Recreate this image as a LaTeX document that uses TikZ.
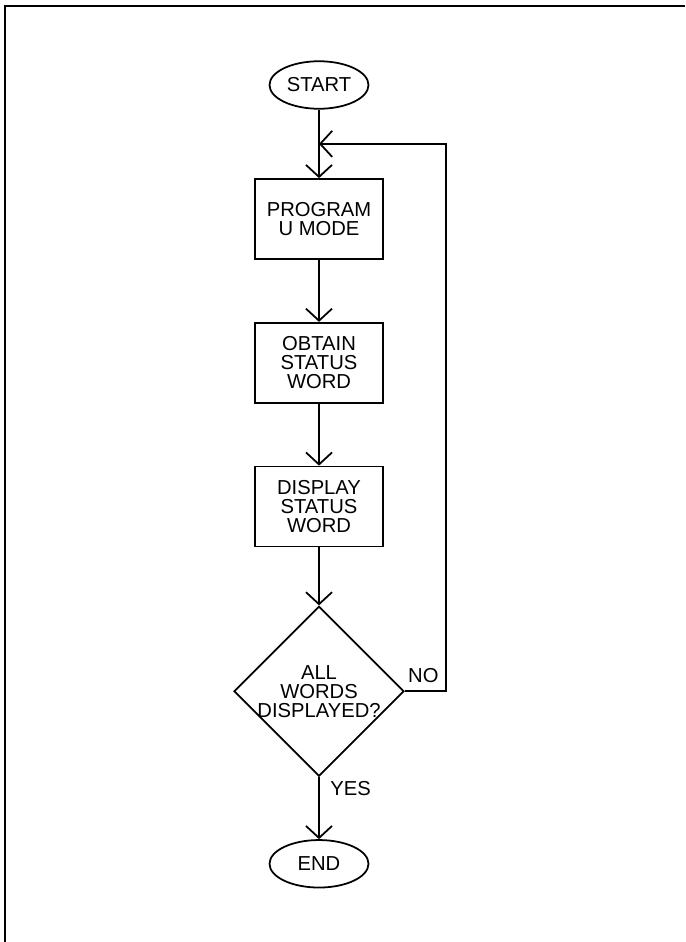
\documentclass[tikz,border=0pt]{standalone}
\usepackage{fontspec}
\setmainfont{Liberation Sans}
\usetikzlibrary{positioning,shapes.geometric,calc,arrows.meta}

\begin{document}
\begin{tikzpicture}[
  font=\fontsize{11.5}{10.8}\selectfont,
  >={Straight Barb[length=2.4mm,width=5.2mm]},
  node distance=1.24cm,
  term/.style={ellipse, draw=black, line width=1pt, minimum width=1.98cm,
    minimum height=0.95cm, inner sep=1pt, align=center},
  proc/.style={rectangle, draw=black, line width=1pt, minimum width=2.55cm,
    minimum height=1.6cm, align=center, inner sep=2pt},
  decide/.style={diamond, draw=black, line width=1pt, aspect=1,
    minimum width=3.4cm, minimum height=3.4cm, align=center, inner sep=-4pt},
  ar/.style={->, line width=1pt, draw=black},
  lab/.style={inner sep=0pt}
]
\useasboundingbox (0,0) rectangle (13.7,-18.84);
% page frame (top and left edge only)
\draw[line width=1.2pt] (13.7,-0.12) -| (0.1,-18.84);
% Start
\node[term] (start) at (6.38,-1.7) {START};
% Steps
\node[proc, below=1.37cm of start] (prog)   {PROGRAM\\U MODE};
\node[proc, below=of prog]         (obtain) {OBTAIN\\STATUS\\WORD};
\node[proc, below=of obtain]       (disp)   {DISPLAY\\STATUS\\WORD};
% Test
\node[decide, below=1.16cm of disp] (alldone) {ALL\\WORDS\\DISPLAYED?};
% End
\node[term, below=of alldone] (end) {END};
% join point of the loop
\coordinate (join) at ($(start.south)!0.5!(prog.north)$);
% main flow
\draw[ar] (start) -- (prog);
\draw[ar] (prog) -- (obtain);
\draw[ar] (obtain) -- (disp);
\draw[ar] (disp) -- (alldone);
\draw[ar] (alldone) -- (end);
% loop back
\draw[ar] (alldone.east) -- ++(0.82,0) |- (join);
\node[lab, above right=0.16cm and 0.06cm of alldone.east] (no) {NO};
\node[lab, below right=0.08cm and 0.22cm of alldone.south] (yes) {YES};
\end{tikzpicture}
\end{document}
